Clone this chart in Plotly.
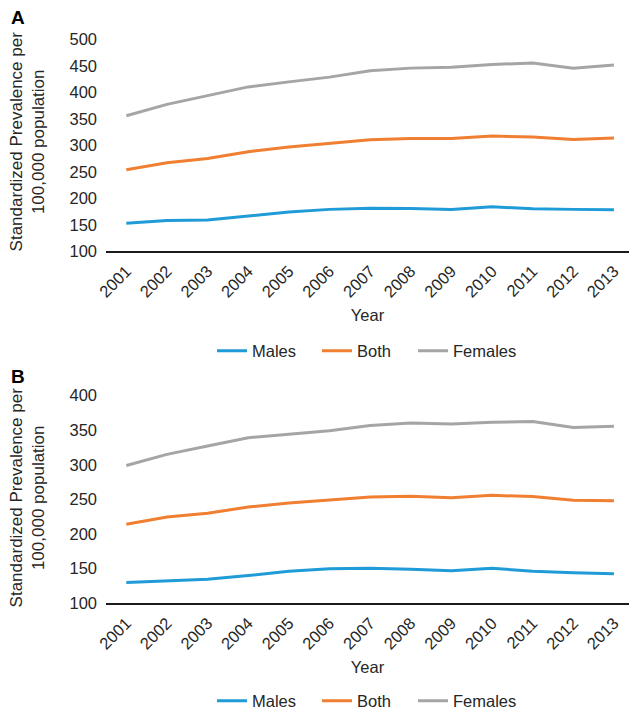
import plotly.graph_objects as go

years = [str(y) for y in range(2001, 2014)]

# Panel A
a_males = [153, 158, 159, 166, 174, 179, 181, 180.5, 179, 184, 180, 179, 178.5]
a_both = [254, 267, 275, 288, 297, 304, 310.5, 313, 313, 317.5, 316, 311, 314]
a_females = [356, 377.5, 394, 410.5, 420, 429, 441, 446, 447.5, 453, 455.5, 446, 452]

# Panel B
b_males = [130, 132.8, 134.7, 140, 146, 149.7, 150.6, 149, 147, 150.6, 146, 144, 142.5]
b_both = [214, 224.5, 230, 239, 244.7, 249, 253.4, 254.4, 252.4, 255.8, 254, 248.6, 248]
b_females = [299, 315, 327, 339, 344, 349, 356.6, 360.5, 359, 361.5, 362.4, 354, 355.7]

series_names = ["Males", "Both", "Females"]
colors = ["#1F9BD7", "#F07F31", "#A5A5A5"]
legend_widths = [60, 51, 62]

W, H = 629, 719
FONT = "Liberation Sans, Arial, sans-serif"
TXT = "#262626"
FS = 16.5

def px(x):
    return x / W

def py(y):
    return 1 - y / H

fig = go.Figure()

for vals, name, col, lw in zip([a_males, a_both, a_females], series_names, colors, legend_widths):
    fig.add_trace(go.Scatter(x=years, y=vals, name=name, mode="lines",
                             line=dict(color=col, width=3), legendwidth=lw,
                             xaxis="x", yaxis="y", legend="legend"))
for vals, name, col, lw in zip([b_males, b_both, b_females], series_names, colors, legend_widths):
    fig.add_trace(go.Scatter(x=years, y=vals, name=name, mode="lines",
                             line=dict(color=col, width=3), legendwidth=lw,
                             xaxis="x2", yaxis="y2", legend="legend2"))

xdom = [px(106), 1.0]
xaxis_common = dict(type="category", range=[-0.5, 12.37], showgrid=False,
                    showline=True, linecolor="#1a1a1a", linewidth=2,
                    ticks="", tickangle=-45, tickfont=dict(size=FS, color=TXT, family=FONT),
                    domain=xdom, automargin=False, zeroline=False, ticklabelstandoff=2)
yaxis_common = dict(showgrid=False, showline=False, ticks="", zeroline=False,
                    tickfont=dict(size=FS, color=TXT, family=FONT), automargin=False,
                    dtick=50, ticklabelstandoff=8)

fig.update_layout(
    width=W, height=H,
    margin=dict(l=0, r=0, t=0, b=0),
    paper_bgcolor="white", plot_bgcolor="white",
    font=dict(family=FONT, color=TXT, size=FS),
    xaxis=dict(**xaxis_common, anchor="y",
               title=dict(text="Year", font=dict(size=FS, color=TXT), standoff=10)),
    yaxis=dict(**yaxis_common, range=[100, 500], domain=[py(254), py(40)], anchor="x"),
    xaxis2=dict(**xaxis_common, anchor="y2",
                title=dict(text="Year", font=dict(size=FS, color=TXT), standoff=10)),
    yaxis2=dict(**yaxis_common, range=[100, 400], domain=[py(610), py(400)], anchor="x2"),
    legend=dict(orientation="h", x=px(212), xanchor="left", y=py(355), yanchor="middle",
                font=dict(size=FS, color=TXT), bgcolor="rgba(0,0,0,0)"),
    legend2=dict(orientation="h", x=px(212), xanchor="left", y=py(709), yanchor="middle",
                 font=dict(size=FS, color=TXT), bgcolor="rgba(0,0,0,0)"),
    showlegend=True,
)

annotations = [
    dict(text="<b>A</b>", x=px(9), y=py(18), xanchor="left", yanchor="middle",
         font=dict(size=19, color="black", family=FONT)),
    dict(text="<b>B</b>", x=px(9), y=py(381), xanchor="left", yanchor="middle",
         font=dict(size=19, color="black", family=FONT)),
    dict(text="Standardized Prevalence per<br>100,000 population", textangle=-90,
         x=px(27), y=py(143), xanchor="center", yanchor="middle",
         font=dict(size=17, color=TXT, family=FONT)),
    dict(text="Standardized Prevalence per<br>100,000 population", textangle=-90,
         x=px(27), y=py(503), xanchor="center", yanchor="middle",
         font=dict(size=17, color=TXT, family=FONT)),
]
for a in annotations:
    a.update(xref="paper", yref="paper", showarrow=False)
fig.update_layout(annotations=annotations)

# remove the default 8px page margin so the figure fills the window exactly
fig.write_html("out.html",
               config={"displayModeBar": False},
               post_script="document.body.style.margin='0';document.body.style.overflow='hidden';")
